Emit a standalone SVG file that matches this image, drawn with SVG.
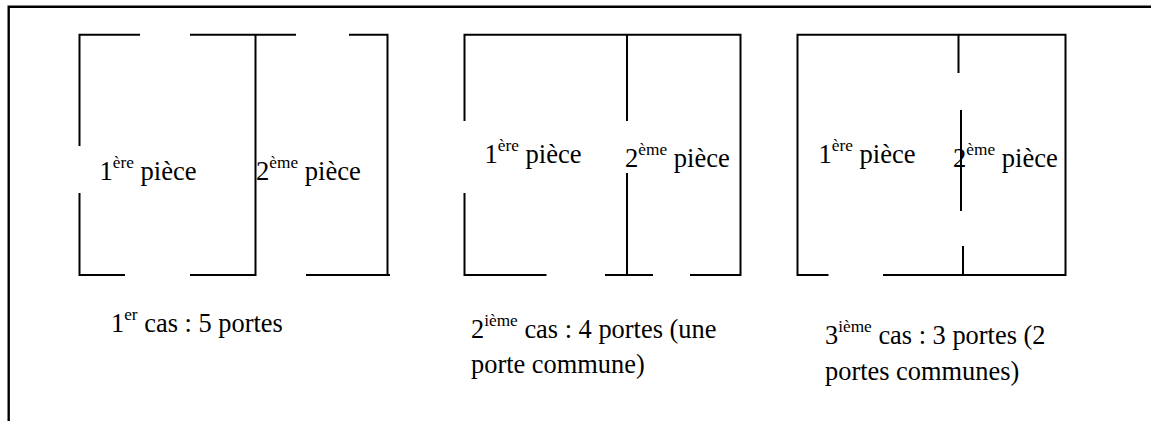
<svg xmlns="http://www.w3.org/2000/svg" width="1151" height="421" viewBox="0 0 1151 421">
<style>
.w{fill:none;stroke:#000;stroke-width:2;stroke-linecap:butt}
.f{fill:none;stroke:#000;stroke-width:2.4}
text{font-family:"Liberation Serif","Times New Roman",serif;fill:#000;font-size:26.6px}
.c{font-size:26.4px}
.s{font-size:17.3px}
</style>
<rect width="1151" height="421" fill="#fff"/>
<path id="frame" class="f" d="M8.7 421V6.700H1151"/>
<g id="cas1">
<path class="w" d="M140 34.700H79.500V146M79.500 193V275H125M190 34.700H296M349 34.700H387.500V275M190 275H255.500V34.700M306 275H390"/>
<text x="99.500" y="179.500">1<tspan class="s" dy="-12">ère</tspan><tspan dy="12"> pièce</tspan></text>
<text x="256" y="179.500">2<tspan class="s" dy="-12">ème</tspan><tspan dy="12"> pièce</tspan></text>
<text class="c" x="111" y="332">1<tspan class="s" dy="-12">er</tspan><tspan dy="12"> cas : 5 portes</tspan></text>
</g>
<g id="cas2">
<path class="w" d="M464.500 121V34.700H740.500V275H690M464.500 193V275H546.500M627 34.700V121M627 173V275M605 275H653"/>
<text x="484.500" y="163">1<tspan class="s" dy="-12">ère</tspan><tspan dy="12"> pièce</tspan></text>
<text x="625" y="166.500">2<tspan class="s" dy="-12">ème</tspan><tspan dy="12"> pièce</tspan></text>
<text class="c" x="471" y="338">2<tspan class="s" dy="-12">ième</tspan><tspan dy="12"> cas : 4 portes (une</tspan></text>
<text class="c" x="471" y="373">porte commune)</text>
</g>
<g id="cas3">
<path class="w" d="M828.500 275H797.500V34.700H1065.500V275H883M958.500 34.700V73M961 110V211M963 246V275"/>
<text x="818.500" y="163">1<tspan class="s" dy="-12">ère</tspan><tspan dy="12"> pièce</tspan></text>
<text x="953" y="166.500">2<tspan class="s" dy="-12">ème</tspan><tspan dy="12"> pièce</tspan></text>
<text class="c" x="825" y="344">3<tspan class="s" dy="-12">ième</tspan><tspan dy="12"> cas : 3 portes (2</tspan></text>
<text class="c" x="825" y="380">portes communes)</text>
</g>
</svg>
